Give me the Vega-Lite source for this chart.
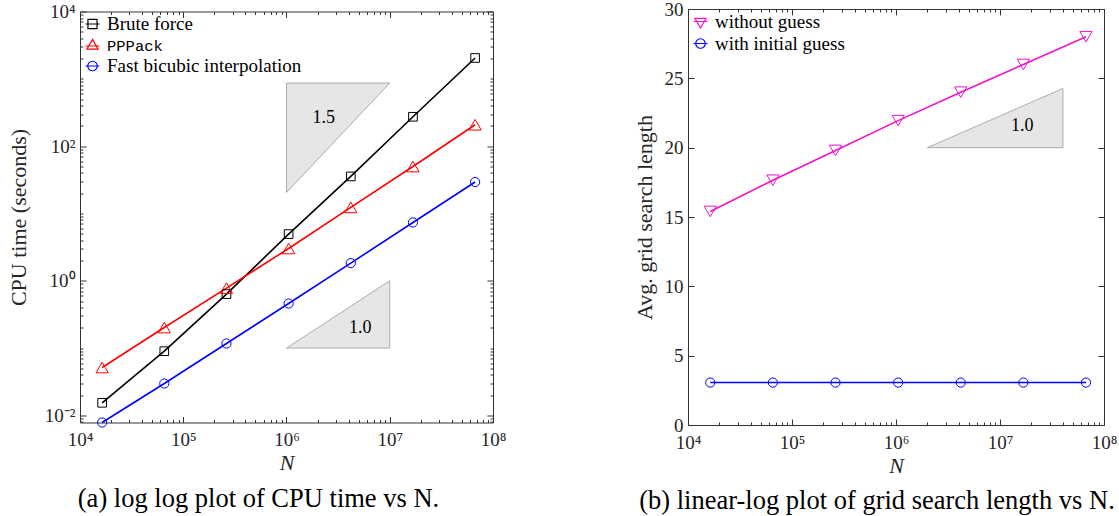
{
  "$schema": "https://vega.github.io/schema/vega-lite/v6.json",
  "padding": {"left": 6, "top": -1, "right": 0, "bottom": 0},
  "bounds": "flush",
  "center": true,
  "spacing": 195,
  "background": "white",
  "resolve": {"scale": {"color": "independent", "shape": "independent"}},
  "config": {
    "font": "Liberation Serif",
    "view": {"stroke": "#333333", "strokeWidth": 1},
    "axis": {
      "grid": false,
      "domain": false,
      "labelFont": "Liberation Serif",
      "labelFontSize": 19,
      "labelColor": "#262626",
      "tickColor": "#333333",
      "tickWidth": 1,
      "titleFont": "Liberation Serif",
      "titleFontSize": 22,
      "titleFontWeight": "normal",
      "titleColor": "#262626",
      "labelFlush": false,
      "labelOverlap": false
    },
    "legend": {
      "orient": "top-left",
      "offset": 3,
      "padding": 0,
      "labelFont": "Liberation Serif",
      "labelFontSize": 19,
      "labelColor": "#000000",
      "labelOffset": 5,
      "labelLimit": 0,
      "rowPadding": 2,
      "symbolSize": 196,
      "symbolStrokeWidth": 1.2,
      "symbolOpacity": 1,
      "symbolFillColor": "transparent",
      "title": null
    },
    "title": {"font": "Liberation Serif", "fontSize": 26.5, "fontWeight": "normal", "color": "#000000"}
  },
  "datasets": {
    "cpu": [
      {"N": 16384, "time": 0.0154, "method": "Brute force"},
      {"N": 65536, "time": 0.090, "method": "Brute force"},
      {"N": 262144, "time": 0.634, "method": "Brute force"},
      {"N": 1048576, "time": 4.94, "method": "Brute force"},
      {"N": 4194304, "time": 35.5, "method": "Brute force"},
      {"N": 16777216, "time": 273, "method": "Brute force"},
      {"N": 67108864, "time": 2040, "method": "Brute force"},
      {"N": 16384, "time": 0.0515, "method": "PPPack"},
      {"N": 65536, "time": 0.202, "method": "PPPack"},
      {"N": 262144, "time": 0.778, "method": "PPPack"},
      {"N": 1048576, "time": 3.02, "method": "PPPack"},
      {"N": 4194304, "time": 12.3, "method": "PPPack"},
      {"N": 16777216, "time": 49.8, "method": "PPPack"},
      {"N": 67108864, "time": 208, "method": "PPPack"},
      {"N": 16384, "time": 0.00785, "method": "Fast bicubic interpolation"},
      {"N": 65536, "time": 0.0298, "method": "Fast bicubic interpolation"},
      {"N": 262144, "time": 0.117, "method": "Fast bicubic interpolation"},
      {"N": 1048576, "time": 0.46, "method": "Fast bicubic interpolation"},
      {"N": 4194304, "time": 1.83, "method": "Fast bicubic interpolation"},
      {"N": 16777216, "time": 7.35, "method": "Fast bicubic interpolation"},
      {"N": 67108864, "time": 29.3, "method": "Fast bicubic interpolation"}
    ],
    "grid": [
      {"N": 16384, "len": 15.4, "method": "without guess"},
      {"N": 65536, "len": 17.65, "method": "without guess"},
      {"N": 262144, "len": 19.8, "method": "without guess"},
      {"N": 1048576, "len": 21.95, "method": "without guess"},
      {"N": 4194304, "len": 24.0, "method": "without guess"},
      {"N": 16777216, "len": 26.0, "method": "without guess"},
      {"N": 67108864, "len": 28.0, "method": "without guess"},
      {"N": 16384, "len": 3.06, "method": "with initial guess"},
      {"N": 65536, "len": 3.06, "method": "with initial guess"},
      {"N": 262144, "len": 3.06, "method": "with initial guess"},
      {"N": 1048576, "len": 3.06, "method": "with initial guess"},
      {"N": 4194304, "len": 3.06, "method": "with initial guess"},
      {"N": 16777216, "len": 3.06, "method": "with initial guess"},
      {"N": 67108864, "len": 3.06, "method": "with initial guess"}
    ],
    "triLeft": [
      {"N": 1000000, "y": 20.5, "y2": 867, "tri": "a"},
      {"N": 10000000, "y": 867, "y2": 867, "tri": "a"},
      {"N": 1000000, "y": 0.1, "y2": 0.1, "tri": "b"},
      {"N": 10000000, "y": 1, "y2": 0.1, "tri": "b"}
    ],
    "slopeLeft": [
      {"N": 2300000, "y": 262, "label": "1.5"},
      {"N": 5190000, "y": 0.202, "label": "1.0"}
    ],
    "triRight": [
      {"N": 2000000, "y": 20, "y2": 20},
      {"N": 40300000, "y": 24.27, "y2": 20}
    ],
    "slopeRight": [
      {"N": 16400000, "y": 21.53, "label": "1.0"}
    ]
  },
  "hconcat": [
    {
      "width": 413,
      "height": 411,
      "title": {"text": "(a) log log plot of CPU time vs N.", "orient": "bottom", "anchor": "middle", "dx": -28, "offset": 12},
      "resolve": {"axis": {"x": "independent", "y": "independent"}},
      "layer": [
        {
          "data": {"name": "triLeft"},
          "mark": {"type": "area", "fill": "#e6e6e6", "stroke": "#9a9a9a", "strokeWidth": 0.8},
          "encoding": {
            "x": {"field": "N", "type": "quantitative", "scale": {"type": "log", "domain": [10000, 100000000], "nice": false},
              "axis": {"orient": "bottom", "values": [10000, 100000, 1000000, 10000000, 100000000], "tickSize": -6, "labelPadding": 14,
                "labelExpr": "datum.value < 5e4 ? '10⁴' : datum.value < 5e5 ? '10⁵' : datum.value < 5e6 ? '10⁶' : datum.value < 5e7 ? '10⁷' : '10⁸'",
                "title": "N", "titleFontStyle": "italic", "titlePadding": 3}},
            "y": {"field": "y", "type": "quantitative", "stack": null, "scale": {"type": "log", "domain": [0.00785, 10000], "nice": false},
              "axis": {"orient": "left", "values": [0.01, 1, 100, 10000], "tickSize": -6, "labelPadding": 11,
                "labelExpr": "datum.value < 0.05 ? '10⁻²' : datum.value < 5 ? '10⁰' : datum.value < 500 ? '10²' : '10⁴'",
                "title": "CPU time (seconds)", "titlePadding": 14}},
            "y2": {"field": "y2"},
            "detail": {"field": "tri", "type": "nominal"}
          }
        },
        {
          "data": {"name": "cpu"},
          "mark": {"type": "line", "strokeWidth": 1.6},
          "encoding": {
            "x": {"field": "N", "type": "quantitative",
              "axis": {"orient": "bottom", "values": [20000,30000,40000,50000,60000,70000,80000,90000,200000,300000,400000,500000,600000,700000,800000,900000,2000000,3000000,4000000,5000000,6000000,7000000,8000000,9000000,20000000,30000000,40000000,50000000,60000000,70000000,80000000,90000000], "tickSize": -3, "labels": false, "title": null}},
            "y": {"field": "time", "type": "quantitative",
              "axis": {"orient": "left", "values": [0.008,0.009,0.02,0.03,0.04,0.05,0.06,0.07,0.08,0.09,0.1,0.2,0.3,0.4,0.5,0.6,0.7,0.8,0.9,2,3,4,5,6,7,8,9,10,20,30,40,50,60,70,80,90,200,300,400,500,600,700,800,900,1000,2000,3000,4000,5000,6000,7000,8000,9000], "tickSize": -3, "labels": false, "title": null}},
            "color": {"field": "method", "type": "nominal",
              "scale": {"domain": ["Brute force", "PPPack", "Fast bicubic interpolation"], "range": ["#000000", "#ff0000", "#0000ff"]},
              "legend": {"symbolOpacity": 1, "encode": {"labels": {"update": {
                "font": {"signal": "datum.value === 'PPPack' ? 'Liberation Mono' : 'Liberation Serif'"},
                "fontSize": {"signal": "datum.value === 'PPPack' ? 15.5 : 19"}}}}}}
          }
        },
        {
          "data": {"name": "cpu"},
          "transform": [{"filter": {"field": "method", "equal": "Brute force"}}],
          "mark": {"type": "point", "filled": false, "strokeWidth": 1, "opacity": 1, "shape": "square", "size": 75},
          "encoding": {
            "x": {"field": "N", "type": "quantitative",
              "axis": {"orient": "top", "values": [10000, 100000, 1000000, 10000000, 100000000], "tickSize": -6, "labels": false, "title": null}},
            "y": {"field": "time", "type": "quantitative",
              "axis": {"orient": "right", "values": [0.01, 1, 100, 10000], "tickSize": -6, "labels": false, "title": null}},
            "color": {"field": "method", "type": "nominal"}
          }
        },
        {
          "data": {"name": "cpu"},
          "transform": [{"filter": {"field": "method", "equal": "PPPack"}}],
          "mark": {"type": "point", "filled": false, "strokeWidth": 1, "opacity": 1, "shape": "triangle-up", "size": 150},
          "encoding": {
            "x": {"field": "N", "type": "quantitative", "axis": null},
            "y": {"field": "time", "type": "quantitative", "axis": null},
            "color": {"field": "method", "type": "nominal"}
          }
        },
        {
          "data": {"name": "cpu"},
          "transform": [{"filter": {"field": "method", "equal": "Fast bicubic interpolation"}}],
          "mark": {"type": "point", "filled": false, "strokeWidth": 1, "opacity": 1, "shape": "circle", "size": 85},
          "encoding": {
            "x": {"field": "N", "type": "quantitative", "axis": null},
            "y": {"field": "time", "type": "quantitative", "axis": null},
            "color": {"field": "method", "type": "nominal"}
          }
        },
        {
          "data": {"name": "cpu"},
          "mark": {"type": "point", "filled": false, "strokeWidth": 1, "opacity": 0},
          "encoding": {
            "x": {"field": "N", "type": "quantitative",
              "axis": {"orient": "top", "values": [20000,30000,40000,50000,60000,70000,80000,90000,200000,300000,400000,500000,600000,700000,800000,900000,2000000,3000000,4000000,5000000,6000000,7000000,8000000,9000000,20000000,30000000,40000000,50000000,60000000,70000000,80000000,90000000], "tickSize": -3, "labels": false, "title": null}},
            "y": {"field": "time", "type": "quantitative",
              "axis": {"orient": "right", "values": [0.008,0.009,0.02,0.03,0.04,0.05,0.06,0.07,0.08,0.09,0.1,0.2,0.3,0.4,0.5,0.6,0.7,0.8,0.9,2,3,4,5,6,7,8,9,10,20,30,40,50,60,70,80,90,200,300,400,500,600,700,800,900,1000,2000,3000,4000,5000,6000,7000,8000,9000], "tickSize": -3, "labels": false, "title": null}},
            "color": {"field": "method", "type": "nominal",
              "legend": {"symbolOpacity": 1, "encode": {"labels": {"update": {
                "font": {"signal": "datum.value === 'PPPack' ? 'Liberation Mono' : 'Liberation Serif'"},
                "fontSize": {"signal": "datum.value === 'PPPack' ? 15.5 : 19"}}}}}},
            "shape": {"field": "method", "type": "nominal",
              "scale": {"domain": ["Brute force", "PPPack", "Fast bicubic interpolation"],
                "range": ["M-1,0H1M-0.65,-0.65H0.65V0.65H-0.65Z", "M-1,0H1M0,-0.95L0.8,0.45H-0.8Z", "M-1,0H1M0.68,0A0.68,0.68,0,1,1,-0.68,0A0.68,0.68,0,1,1,0.68,0Z"]},
              "legend": {"symbolOpacity": 1, "encode": {"labels": {"update": {
                "font": {"signal": "datum.value === 'PPPack' ? 'Liberation Mono' : 'Liberation Serif'"},
                "fontSize": {"signal": "datum.value === 'PPPack' ? 15.5 : 19"}}}}}}
          }
        },
        {
          "data": {"name": "slopeLeft"},
          "mark": {"type": "text", "font": "Liberation Serif", "fontSize": 18, "color": "#000000", "align": "center", "baseline": "middle"},
          "encoding": {
            "x": {"field": "N", "type": "quantitative", "axis": null},
            "y": {"field": "y", "type": "quantitative", "axis": null},
            "text": {"field": "label"}
          }
        }
      ]
    },
    {
      "width": 416,
      "height": 416,
      "title": {"text": "(b) linear-log plot of grid search length vs N.", "orient": "bottom", "anchor": "middle", "dx": -19, "offset": 12},
      "resolve": {"axis": {"x": "independent", "y": "independent"}},
      "layer": [
        {
          "data": {"name": "triRight"},
          "mark": {"type": "area", "fill": "#e6e6e6", "stroke": "#9a9a9a", "strokeWidth": 0.8},
          "encoding": {
            "x": {"field": "N", "type": "quantitative", "scale": {"type": "log", "domain": [10000, 100000000], "nice": false},
              "axis": {"orient": "bottom", "values": [10000, 100000, 1000000, 10000000, 100000000], "tickSize": -6, "labelPadding": 14,
                "labelExpr": "datum.value < 5e4 ? '10⁴' : datum.value < 5e5 ? '10⁵' : datum.value < 5e6 ? '10⁶' : datum.value < 5e7 ? '10⁷' : '10⁸'",
                "title": "N", "titleFontStyle": "italic", "titlePadding": 3}},
            "y": {"field": "y", "type": "quantitative", "stack": null, "scale": {"domain": [0, 30], "nice": false},
              "axis": {"orient": "left", "values": [0, 5, 10, 15, 20, 25, 30], "tickSize": -6, "labelPadding": 11,
                "title": "Avg. grid search length", "titlePadding": 8}},
            "y2": {"field": "y2"}
          }
        },
        {
          "data": {"name": "grid"},
          "mark": {"type": "line", "strokeWidth": 1.6},
          "encoding": {
            "x": {"field": "N", "type": "quantitative",
              "axis": {"orient": "bottom", "values": [20000,30000,40000,50000,60000,70000,80000,90000,200000,300000,400000,500000,600000,700000,800000,900000,2000000,3000000,4000000,5000000,6000000,7000000,8000000,9000000,20000000,30000000,40000000,50000000,60000000,70000000,80000000,90000000], "tickSize": -3, "labels": false, "title": null}},
            "y": {"field": "len", "type": "quantitative", "axis": null},
            "color": {"field": "method", "type": "nominal",
              "scale": {"domain": ["without guess", "with initial guess"], "range": ["#f014c8", "#0000ff"]},
              "legend": {"symbolOpacity": 1, "offset": 3}}
          }
        },
        {
          "data": {"name": "grid"},
          "transform": [{"filter": {"field": "method", "equal": "without guess"}}],
          "mark": {"type": "point", "filled": false, "strokeWidth": 1, "opacity": 1, "shape": "triangle-down", "size": 150},
          "encoding": {
            "x": {"field": "N", "type": "quantitative",
              "axis": {"orient": "top", "values": [10000, 100000, 1000000, 10000000, 100000000], "tickSize": -6, "labels": false, "title": null}},
            "y": {"field": "len", "type": "quantitative",
              "axis": {"orient": "right", "values": [0, 5, 10, 15, 20, 25, 30], "tickSize": -6, "labels": false, "title": null}},
            "color": {"field": "method", "type": "nominal"}
          }
        },
        {
          "data": {"name": "grid"},
          "transform": [{"filter": {"field": "method", "equal": "with initial guess"}}],
          "mark": {"type": "point", "filled": false, "strokeWidth": 1, "opacity": 1, "shape": "circle", "size": 85},
          "encoding": {
            "x": {"field": "N", "type": "quantitative", "axis": null},
            "y": {"field": "len", "type": "quantitative", "axis": null},
            "color": {"field": "method", "type": "nominal"}
          }
        },
        {
          "data": {"name": "grid"},
          "mark": {"type": "point", "filled": false, "strokeWidth": 1, "opacity": 0},
          "encoding": {
            "x": {"field": "N", "type": "quantitative",
              "axis": {"orient": "top", "values": [20000,30000,40000,50000,60000,70000,80000,90000,200000,300000,400000,500000,600000,700000,800000,900000,2000000,3000000,4000000,5000000,6000000,7000000,8000000,9000000,20000000,30000000,40000000,50000000,60000000,70000000,80000000,90000000], "tickSize": -3, "labels": false, "title": null}},
            "y": {"field": "len", "type": "quantitative", "axis": null},
            "color": {"field": "method", "type": "nominal", "legend": {"symbolOpacity": 1, "offset": 3}},
            "shape": {"field": "method", "type": "nominal",
              "scale": {"domain": ["without guess", "with initial guess"],
                "range": ["M-1,0H1M-0.8,-0.45H0.8L0,0.95Z", "M-1,0H1M0.68,0A0.68,0.68,0,1,1,-0.68,0A0.68,0.68,0,1,1,0.68,0Z"]},
              "legend": {"symbolOpacity": 1, "offset": 3}}
          }
        },
        {
          "data": {"name": "slopeRight"},
          "mark": {"type": "text", "font": "Liberation Serif", "fontSize": 18, "color": "#000000", "align": "center", "baseline": "middle"},
          "encoding": {
            "x": {"field": "N", "type": "quantitative", "axis": null},
            "y": {"field": "y", "type": "quantitative", "axis": null},
            "text": {"field": "label"}
          }
        }
      ]
    }
  ]
}
